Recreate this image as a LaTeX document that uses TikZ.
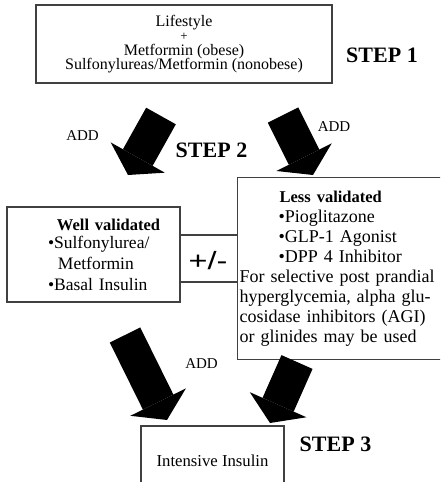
\documentclass[tikz,border=0pt]{standalone}
\usepackage{fontspec}
\setmainfont{Liberation Serif}
\newfontfamily\signfont{Liberation Sans}
\usetikzlibrary{arrows.meta, positioning}
\tikzset{>=latex}
\lineskiplimit=-20pt

\begin{document}
\begin{tikzpicture}[x=1pt, y=-1pt, >=Stealth,
  box/.style={draw=black!75, line width=1.2pt, inner sep=0pt},
  bigarrow/.style={line width=34pt, -{Triangle[length=20pt, width=62pt, line width=0pt]}},
  steplabel/.style={inner sep=0pt, font=\fontsize{22}{24}\selectfont\bfseries},
  addlabel/.style={inner sep=0pt, font=\fontsize{15}{17}\selectfont}]

\useasboundingbox (0,0) rectangle (440,482);
\clip (0,0) rectangle (440,482);

% Step 1 box
\node[box, minimum width=296pt, minimum height=78pt, align=center, font=\fontsize{16}{14.6}\selectfont] (first) at (184,44) {Lifestyle\\{\fontsize{13}{14.6}\selectfont +}\\Metformin (obese)\\Sulfonylureas/Metformin (nonobese)};

% Step 2 boxes
\node[box, minimum height=95pt, text width=165pt, inner xsep=4pt, align=left, font=\fontsize{17.5}{21}\selectfont] (well) at (93.5,254.5) {\hspace*{46pt}{\fontsize{16.5}{21}\selectfont\textbf{Well validated}}\\[-3pt]
  \hspace*{37pt}•Sulfonylurea/\\
  \hspace*{47pt}Metformin\\
  \hspace*{37pt}•Basal Insulin};
\node[box, anchor=north west, minimum height=182pt, text width=205pt, inner xsep=2pt, align=left, font=\fontsize{18}{20}\selectfont] (less) at (237,177) {\hspace*{40pt}{\fontsize{16.5}{20}\selectfont\textbf{Less validated}}\\
  \hspace*{39pt}•Pioglitazone\\
  \hspace*{39pt}•GLP-1 Agonist\\
  \hspace*{39pt}•DPP 4 Inhibitor\\
  For selective post prandial\\
  hyperglycemia, alpha glu-\\
  cosidase inhibitors (AGI)\\
  or glinides may be used};

% Link between the two step 2 boxes
\coordinate (lt) at ([yshift=19.5pt]well.east);
\coordinate (lb) at ([yshift=-27.5pt]well.east);
\draw[draw=black!75, line width=1.2pt] (lt) -- (lt -| less.west);
\draw[draw=black!75, line width=1.2pt] (lb) -- (lb -| less.west);
\node[font=\signfont\fontsize{25}{25}\selectfont, inner sep=0pt] (pm) at (208,261) {\scalebox{1.3}[1]{+/-}};

% Step 3 box
\node[box, minimum width=143pt, minimum height=70pt, font=\fontsize{16.7}{20}\selectfont] (last) at (212.5,461) {Intensive Insulin};

% Block arrows
\coordinate (a1) at (161,116); \coordinate (a2) at (128,175);
\coordinate (b1) at (283,115); \coordinate (b2) at (313,175);
\coordinate (c1) at (125,335); \coordinate (c2) at (167,420);
\coordinate (d1) at (297,362); \coordinate (d2) at (270,423);
\draw[bigarrow] (a1) -- (a2);
\draw[bigarrow] (b1) -- (b2);
\draw[bigarrow] (c1) -- (c2);
\draw[bigarrow] (d1) -- (d2);

% Labels
\node[steplabel] (s1) at (382,55) {STEP 1};
\node[steplabel] (s2) at (211.5,150) {STEP 2};
\node[steplabel] (s3) at (335.5,444) {STEP 3};
\node[addlabel] (add1) at (82.5,136) {ADD};
\node[addlabel] (add2) at (334,126.5) {ADD};
\node[addlabel] (add3) at (201.5,364) {ADD};

\end{tikzpicture}
\end{document}
